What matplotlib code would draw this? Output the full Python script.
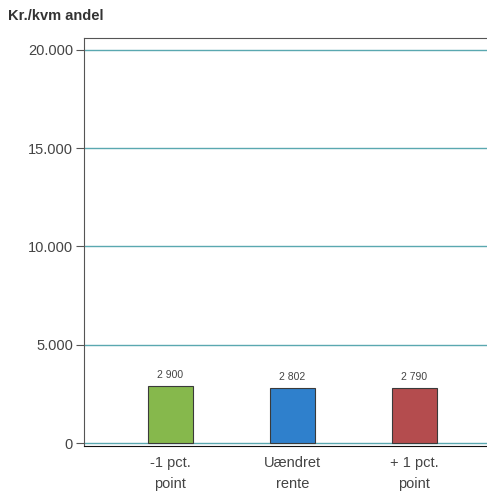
import matplotlib.pyplot as plt

plt.rcParams["font.family"] = ["Liberation Sans", "DejaVu Sans"]

categories = ["-1 pct.\npoint", "Uændret\nrente", "+ 1 pct.\npoint"]
values = [2900, 2802, 2790]
value_labels = ["2 900", "2 802", "2 790"]
colors = ["#86b84c", "#2f80cc", "#b44c4e"]
yticks = [0, 5000, 10000, 15000, 20000]
ytick_labels = ["0", "5.000", "10.000", "15.000", "20.000"]

fig = plt.figure(figsize=(4.87, 4.95), dpi=100)
ax = fig.add_axes([0.1725, 0.099, 0.855, 0.824])

x = list(range(len(categories)))
ax.bar(x, values, width=0.37, color=colors, edgecolor="#3a3a3a", linewidth=0.8, zorder=3)
for xi, v, lab in zip(x, values, value_labels):
    ax.text(xi, v + 300, lab, ha="center", va="bottom", fontsize=7.5, color="#444444")

ax.set_xlim(-0.705, 2.705)
ax.set_ylim(-150, 20600)
ax.set_yticks(yticks)
ax.set_yticklabels(ytick_labels, fontsize=10.5, color="#444444")
for t in yticks:
    ax.axhline(t, color="#5aa8b0", linewidth=1.0, zorder=1)
ax.set_xticks(x)
ax.set_xticklabels(categories, fontsize=10.5, color="#444444", linespacing=1.7)
ax.tick_params(axis="x", length=0, pad=7)
ax.tick_params(axis="y", length=6, color="#555555", pad=2)

for s in ["left", "top", "right"]:
    ax.spines[s].set_color("#555555")
ax.spines["bottom"].set_color("#111111")

fig.text(0.016, 0.968, "Kr./kvm andel", fontsize=10.5, fontweight="bold", color="#333333", va="center")

fig.savefig("out.png", dpi=100)
